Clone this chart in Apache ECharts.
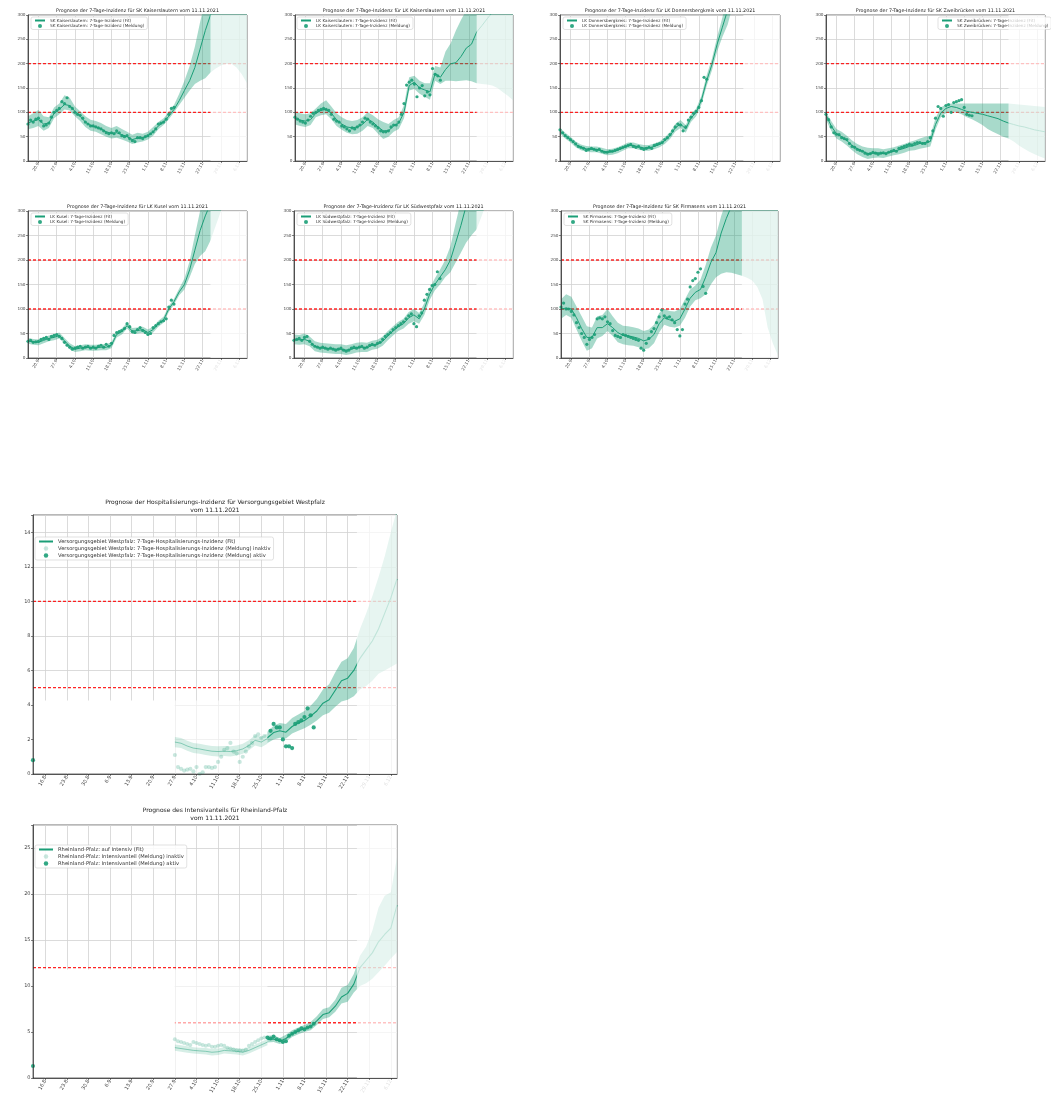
<!DOCTYPE html>
<html>
<head>
<meta charset="utf-8">
<script src="https://cdn.jsdelivr.net/npm/echarts@6/dist/echarts.min.js"></script>
<style>
  html, body { margin: 0; padding: 0; background: #fff; }
  #chart { width: 1051px; height: 1109px; }
</style>
</head>
<body>
<div id="chart"></div>
<script>
// ---------- tick labels ----------
const topTicks = ['20.9','27.9','4.10','11.10','18.10','25.10','1.11','8.11','15.11','22.11','29.11','6.12'];
const hospTicks = ['16.8','23.8','30.8','6.9','13.9','20.9','27.9','4.10','11.10','18.10','25.10','1.11','8.11','15.11','22.11','29.11','6.12'];
const fadedTicks = ['29.11','6.12'];

// ---------- threshold levels ----------
const incidenceLevels = [100, 200];
const hospLevels = [5, 10];
const icuLevels = [6, 12];

// ---------- 7-day incidence per district (fit + bands every 2nd day from 16.9, reports daily from 16.9) ----------
const skklFit = [78,82,85,76,78,98,106,116,114,102,92,80,73,70,66,60,57,58,54,50,44,47,48,52,60,72,80,92,106,124,145,165,192,230,268,300,330,360,390,420,450,480,510];
const skklLo  = [65,68,72,62,68,88,96,106,104,92,82,70,62,60,55,50,46,48,44,40,35,38,40,44,52,65,74,86,100,115,130,145,158,165,170,182,190,196,200,200,192,178,160];
const skklHi  = [92,98,105,92,90,110,118,135,130,112,102,92,85,82,78,72,68,72,66,60,54,58,56,60,70,80,88,100,115,138,165,195,235,285,330,370,400,420,440,460,480,500,520];
const skklPts = [76,84,80,86,88,82,72,74,78,90,100,104,108,122,118,130,112,108,100,96,94,88,80,76,72,72,70,68,66,62,58,56,58,56,62,58,52,50,52,46,42,40,48,48,46,50,52,56,60,66,76,78,80,86,96,108,110];

const lkklFit = [88,84,82,85,98,104,106,98,85,76,70,68,70,75,86,80,70,62,62,72,78,100,155,162,150,146,142,180,172,188,200,202,215,232,240,265,278,292,305,318,330,340,350];
const lkklLo  = [75,72,70,74,90,94,96,86,72,64,58,55,56,62,72,68,56,45,50,60,66,88,145,148,138,132,126,165,158,165,165,164,165,166,164,160,158,157,155,150,142,134,125];
const lkklHi  = [100,98,96,98,108,118,125,112,98,90,84,82,84,90,100,94,86,80,76,84,90,115,172,175,165,160,160,195,192,225,242,268,290,310,320,340,360,380,400,420,440,460,480];
const lkklPts = [90,86,82,80,78,84,92,98,100,104,106,108,106,104,96,86,82,80,72,70,66,62,68,66,70,74,80,88,86,80,76,72,68,62,60,60,62,70,74,74,80,96,118,156,162,166,158,132,150,155,134,142,136,190,178,175,166];

const donFit = [62,52,44,34,28,25,24,24,21,18,19,22,27,32,32,29,27,27,30,34,42,52,68,76,66,88,100,125,165,198,240,275,310,350,390,430,470,510,550,590,630,670,710];
const donLo  = [56,46,38,28,22,19,18,18,15,12,13,16,21,26,26,23,21,21,24,28,35,45,60,68,58,80,92,116,154,186,225,255,280,320,360,400,440,480,520,560,600,640,680];
const donHi  = [68,58,50,40,34,31,30,30,27,24,25,28,33,38,38,35,33,33,36,40,49,59,76,84,74,96,108,134,176,210,255,295,340,380,420,460,500,540,580,620,660,700,740];
const donPts = [64,58,52,48,44,40,35,30,28,26,22,24,26,24,22,24,20,18,18,20,20,22,24,26,28,30,32,34,30,28,30,26,24,26,28,26,32,34,36,38,44,48,54,62,70,76,74,62,70,84,90,98,102,110,124,172,168];

const zwFit = [95,72,56,50,42,32,25,20,15,16,17,15,17,20,23,26,30,32,36,38,40,75,98,108,112,110,106,102,100,98,96,93,90,87,82,78,75,72,70,67,64,62,60];
const zwLo  = [85,62,46,40,32,22,14,8,4,6,7,6,9,12,14,17,21,22,25,27,30,64,90,98,102,100,96,90,86,80,74,66,60,55,50,46,40,32,25,19,14,9,5];
const zwHi  = [100,82,66,60,52,42,35,30,27,26,26,24,26,28,32,35,39,42,46,50,52,88,110,116,118,118,118,118,118,118,118,118,118,118,118,118,117,116,115,114,113,112,111];
const zwPts = [96,85,70,58,55,54,48,46,44,36,30,28,24,22,20,16,14,15,18,16,14,16,17,15,18,20,22,20,26,28,30,32,34,33,36,38,38,36,36,40,48,62,88,112,108,92,114,116,100,120,122,124,126,110,96,94,93];

const kusFit = [35,33,32,36,40,42,46,35,24,18,20,22,21,21,22,22,26,48,54,66,55,56,58,52,58,70,78,100,115,135,150,180,220,260,290,315,340,365,390,415,440,465,490];
const kusLo  = [29,27,26,30,34,36,40,29,18,12,14,16,15,15,16,16,20,42,48,60,49,50,52,46,52,64,72,94,109,128,140,165,192,208,218,240,270,300,330,360,390,420,450];
const kusHi  = [41,39,38,42,46,48,52,41,30,24,26,28,27,27,28,28,32,54,60,72,61,62,64,58,64,76,84,106,121,142,162,198,250,300,340,380,420,460,500,540,580,620,660];
const kusPts = [34,36,32,33,34,38,40,42,38,44,46,48,44,40,32,26,22,18,20,22,24,20,22,24,20,22,20,24,26,22,28,24,30,46,52,54,56,60,70,64,54,52,58,62,56,52,48,50,62,66,70,74,76,80,104,118,110];

const swpFit = [38,37,38,34,24,21,20,19,18,18,16,18,21,22,21,26,28,34,45,55,64,70,82,88,80,100,130,150,165,180,200,235,270,310,350,390,430,470,510,550,590,630,670];
const swpLo  = [28,27,28,24,14,11,10,9,8,8,6,8,11,12,12,17,19,25,36,46,55,60,70,75,70,88,118,138,150,165,175,195,215,235,250,262,290,320,350,380,410,440,470];
const swpHi  = [48,47,50,44,34,31,30,29,28,28,26,28,31,32,31,35,37,44,55,65,74,80,94,100,92,112,142,162,180,200,228,275,320,360,400,440,480,520,560,600,640,680,720];
const swpPts = [36,38,40,36,42,44,34,28,24,22,20,22,20,18,20,18,16,18,20,16,14,16,20,22,20,22,24,20,22,26,28,26,30,32,38,44,48,52,58,62,66,70,74,80,86,90,70,64,86,92,118,130,140,148,150,176,162];

const pirFit = [100,102,100,82,60,42,42,62,62,70,62,52,46,45,43,40,35,38,48,70,82,78,75,80,100,122,134,140,165,195,215,255,285,310,340,370,400,430,460,490,520,550,580];
const pirLo  = [80,88,82,58,35,15,20,40,45,55,45,32,28,26,25,22,18,20,30,52,68,64,62,66,82,105,118,122,130,150,165,172,175,174,171,168,164,158,145,120,62,30,5];
const pirHi  = [120,130,125,105,85,65,62,85,88,100,85,72,66,65,63,60,55,58,68,92,100,96,95,100,120,140,148,160,190,225,250,290,320,350,380,410,440,470,500,530,560,590,620];
const pirPts = [104,112,100,100,95,88,72,62,50,42,28,38,42,48,80,82,80,84,74,70,56,46,44,42,48,46,44,42,40,38,36,20,16,30,40,54,60,72,84,98,86,82,84,78,72,58,45,58,110,120,145,158,162,175,182,146,132];

// ---------- hospitalisation incidence, Westpfalz ----------
// inactive part: every 2nd day from 27.9 (fit/band), daily reports from 27.9
const hospInFit = [1.85,1.78,1.62,1.5,1.45,1.38,1.32,1.3,1.32,1.3,1.35,1.45,1.65,1.95,1.85,2.05];
const hospInLo  = [1.55,1.5,1.35,1.22,1.17,1.1,1.04,1.02,1.04,1.02,1.07,1.17,1.37,1.65,1.55,1.75];
const hospInHi  = [2.15,2.08,1.92,1.8,1.75,1.68,1.62,1.6,1.62,1.6,1.65,1.75,1.95,2.25,2.15,2.35];
const hospInPts = [1.1,0.4,0.3,0.2,0.25,0.3,0.15,0.4,0.0,0.1,0.4,0.4,0.35,0.4,0.7,1.0,1.4,1.5,1.8,1.3,1.2,0.7,1.0,1.3,1.6,1.8,2.2,2.3,2.1,2.2];
// active part: every 2nd day from 27.10, daily reports from 28.10
const hospFit = [2.1,2.4,2.5,2.42,2.75,2.95,3.1,3.35,3.65,4.1,4.3,4.85,5.4,5.55,6.0,6.7,7.2,7.7,8.4,9.3,10.2,11.3];
const hospLo  = [1.8,2.0,2.1,2.05,2.35,2.5,2.65,2.85,3.1,3.4,3.55,3.9,4.2,4.3,4.5,4.9,5.1,5.4,5.8,6.0,6.2,6.4];
const hospHi  = [2.45,2.8,2.95,2.9,3.25,3.45,3.65,3.95,4.35,4.9,5.2,5.9,6.5,6.7,7.3,8.4,9.3,10.3,11.4,12.6,14.0,15.3];
const hospPts = [2.5,2.9,2.7,2.7,2.0,1.6,1.6,1.5,2.9,3.0,3.1,3.3,3.8,3.4,2.7];
const hospFirstPt = 0.8;

// ---------- ICU share, Rheinland-Pfalz ----------
const icuInFit = [3.3,3.2,3.1,3.0,2.95,2.9,2.8,2.85,3.0,2.95,2.9,2.8,3.0,3.3,3.6,3.9];
const icuInLo  = [2.95,2.85,2.75,2.65,2.6,2.55,2.45,2.5,2.65,2.6,2.55,2.45,2.65,2.95,3.25,3.55];
const icuInHi  = [3.65,3.55,3.45,3.35,3.3,3.25,3.15,3.2,3.35,3.3,3.25,3.15,3.35,3.65,3.95,4.25];
const icuInPts = [4.2,4.0,3.9,3.8,3.7,3.6,3.9,3.8,3.7,3.6,3.5,3.6,3.4,3.4,3.5,3.6,3.5,3.3,3.2,3.1,3.0,3.0,3.0,3.1,3.5,3.7,3.9,4.1,4.3,4.4];
const icuFit = [4.2,4.25,4.0,4.3,4.8,5.1,5.35,5.6,6.2,6.9,7.1,7.8,8.8,9.2,10.2,12.0,12.8,13.6,14.8,15.6,16.3,18.8];
const icuLo  = [3.85,3.9,3.7,3.95,4.45,4.75,5.0,5.2,5.75,6.4,6.6,7.2,8.1,8.3,9.3,10.0,10.3,10.8,11.5,12.2,13.0,13.7];
const icuHi  = [4.6,4.65,4.35,4.7,5.2,5.5,5.75,6.1,6.7,7.5,7.7,8.5,9.8,10.1,11.3,13.3,14.3,16.0,18.5,19.8,20.2,24.0];
const icuPts = [4.4,4.3,4.5,4.2,4.1,3.9,4.0,4.6,4.8,5.0,5.2,5.4,5.3,5.5,5.6,5.9];
const icuFirstPt = 1.3;

// ---------- styling ----------
const FONT = 'DejaVu Sans';
const TEAL = '#1b9e77';
const BAND = 'rgba(27,158,119,0.38)';
const GRID_COLOR = '#d2d2d2';

function dayRange(y, m, d, n) {
  const out = [];
  for (let k = 0; k < n; k++) {
    const t = new Date(Date.UTC(y, m, d + k));
    out.push(t.getUTCDate() + '.' + (t.getUTCMonth() + 1));
  }
  return out;
}
const topDays = dayRange(2021, 8, 16, 85);   // 16.9 – 9.12
const hospDays = dayRange(2021, 7, 12, 119); // 12.8 – 8.12

function pairs(days, start, step, vals) { return vals.map((v, k) => [days[start + k * step], v]); }
function diff(hi, lo) { return hi.map((v, k) => +(v - lo[k]).toFixed(3)); }

const grids = [], xAxes = [], yAxes = [], series = [], legends = [], titles = [];

function addGrid(box) {
  grids.push({ left: box[0], top: box[1], width: box[2], height: box[3], show: true,
    borderColor: '#333', borderWidth: 0.7, backgroundColor: 'transparent' });
  return grids.length - 1;
}

function addAxes(gi, days, ticks, yMin, yMax, yInt, tickFont) {
  const isTick = (i, v) => ticks.indexOf(v) >= 0;
  const xb = { type: 'category', data: days, boundaryGap: false, gridIndex: gi, position: 'bottom', silent: true };
  xAxes.push(Object.assign({}, xb, { z: 0, axisLine: { show: false }, axisTick: { show: false }, axisLabel: { show: false },
    splitLine: { show: true, interval: isTick, lineStyle: { color: GRID_COLOR, width: 0.8 } } }));
  xAxes.push(Object.assign({}, xb, { z: 6,
    axisLine: { show: true, onZero: false, lineStyle: { color: '#333', width: 0.8 } },
    axisTick: { show: true, interval: isTick, length: 2, lineStyle: { color: '#333', width: 0.6 } },
    axisLabel: { show: true, interval: isTick, rotate: 60, margin: 2, fontSize: tickFont, fontFamily: FONT,
      color: v => (fadedTicks.indexOf(v) >= 0 ? '#e2e2e2' : '#444') },
    splitLine: { show: false } }));
  const yb = { type: 'value', min: yMin, max: yMax, interval: yInt, gridIndex: gi, position: 'left', silent: true };
  yAxes.push(Object.assign({}, yb, { z: 0, axisLine: { show: false }, axisTick: { show: false }, axisLabel: { show: false },
    splitLine: { show: true, lineStyle: { color: GRID_COLOR, width: 0.8 } } }));
  yAxes.push(Object.assign({}, yb, { z: 6,
    axisLine: { show: true, onZero: false, lineStyle: { color: '#333', width: 0.8 } },
    axisTick: { show: true, length: 2, lineStyle: { color: '#333', width: 0.6 } },
    axisLabel: { show: true, margin: 2.5, fontSize: tickFont, fontFamily: FONT, color: '#444',
      formatter: v => (Math.abs(v % yInt) < 1e-9 ? String(v) : '') },
    splitLine: { show: false } }));
  return { xAxisIndex: 2 * gi, yAxisIndex: 2 * gi };
}

function addBand(ax, days, start, lo, hi, color, z, key) {
  series.push(Object.assign({ type: 'line', stack: key, data: pairs(days, start, 2, lo), symbol: 'none',
    lineStyle: { opacity: 0 }, silent: true, z: z }, ax));
  series.push(Object.assign({ type: 'line', stack: key, data: pairs(days, start, 2, diff(hi, lo)), symbol: 'none',
    lineStyle: { opacity: 0 }, areaStyle: { color: color, opacity: 1 }, silent: true, z: z }, ax));
}

function addOverlay(ax, areas, color, z) {
  series.push(Object.assign({ type: 'line', data: [], silent: true,
    markArea: { silent: true, z: z, itemStyle: { color: color, borderWidth: 0 }, data: areas } }, ax));
}

// red dashed threshold lines spanning the whole time range
function addThresholds(ax, days, levels) {
  levels.forEach(v => {
    series.push(Object.assign({ type: 'line', data: [[days[0], v], [days[days.length - 1], v]], symbol: 'none', silent: true, z: 1,
      lineStyle: { color: 'rgba(255,0,0,0.85)', type: [3, 2], width: 1.4 } }, ax));
  });
}

function addLegend(pos, names, font, iw, ih, gap, pad) {
  // the fit entry is drawn as a plain line (its marker hidden)
  const data = names.map((n, k) => (k === 0 ? { name: n, itemStyle: { opacity: 0 } } : n));
  legends.push({ left: pos[0], top: pos[1], orient: 'vertical', z: 7, selectedMode: false,
    itemWidth: iw, itemHeight: ih, itemGap: gap, padding: pad,
    backgroundColor: 'rgba(255,255,255,0.85)', borderColor: '#cfcfcf', borderWidth: 0.6, borderRadius: 2,
    textStyle: { fontSize: font, color: '#333', fontFamily: FONT }, data: data });
}

function addTitle(text, cx, top, font, lh) {
  titles.push({ text: text, left: cx, top: top, textAlign: 'center', padding: 0,
    textStyle: { fontSize: font, fontWeight: 'normal', color: '#222', fontFamily: FONT, lineHeight: lh } });
}

// ---------- district panels ----------
const topPanels = [
  { region: 'SK Kaiserslautern', fit: skklFit, lo: skklLo, hi: skklHi, pts: skklPts },
  { region: 'LK Kaiserslautern', fit: lkklFit, lo: lkklLo, hi: lkklHi, pts: lkklPts },
  { region: 'LK Donnersbergkreis', fit: donFit, lo: donLo, hi: donHi, pts: donPts },
  { region: 'SK Zweibrücken', fit: zwFit, lo: zwLo, hi: zwHi, pts: zwPts },
  { region: 'LK Kusel', fit: kusFit, lo: kusLo, hi: kusHi, pts: kusPts },
  { region: 'LK Südwestpfalz', fit: swpFit, lo: swpLo, hi: swpHi, pts: swpPts },
  { region: 'SK Pirmasens', fit: pirFit, lo: pirLo, hi: pirHi, pts: pirPts }
];
const topBoxes = [[28,15,219,146],[295,15,218,146],[560,15,220,146],[826,15,219,146],[28,211,219,147],[294,211,219,147],[561,211,217,147]];
const topLegendPos = [[31,17],[297,17],[563,17],[938,17],[31,213],[297,213],[564,213]];

topPanels.forEach((p, k) => {
  const box = topBoxes[k];
  const gi = addGrid(box);
  const ax = addAxes(gi, topDays, topTicks, 0, 300, 50, 4.2);
  const fitName = p.region + ': 7-Tage-Inzidenz (Fit)';
  const ptsName = p.region + ': 7-Tage-Inzidenz (Meldung)';
  addThresholds(ax, topDays, incidenceLevels);
  addBand(ax, topDays, 0, p.lo, p.hi, BAND, 3, 'band' + k);
  series.push(Object.assign({ type: 'line', name: fitName, data: pairs(topDays, 0, 2, p.fit), symbol: 'none',
    lineStyle: { color: TEAL, width: 1 }, itemStyle: { color: TEAL }, z: 4 }, ax));
  series.push(Object.assign({ type: 'scatter', name: ptsName, data: pairs(topDays, 0, 1, p.pts), symbolSize: 3.2,
    itemStyle: { color: TEAL, opacity: 0.9 }, z: 5 }, ax));
  addOverlay(ax, [[{ xAxis: '25.11' }, { xAxis: '9.12' }]], 'rgba(255,255,255,0.72)', 8);
  addLegend(topLegendPos[k], [fitName, ptsName], 4.2, 10, 4, 1.5, [1.5, 3]);
  addTitle('Prognose der 7-Tage-Inzidenz für ' + p.region + ' vom 11.11.2021', box[0] + box[2] / 2, box[1] - 7, 4.8, 6);
});

// ---------- hospitalisation / ICU panels ----------
function addLongPanel(cfg) {
  const gi = addGrid(cfg.box);
  const ax = addAxes(gi, hospDays, hospTicks, 0, cfg.yMax, cfg.yInt, 5);
  const inactiveFit = 'rgba(27,158,119,0.45)';
  addThresholds(ax, hospDays, cfg.levels);
  // masked history before 27.9 and the dimmed inactive stretch
  addOverlay(ax, [[{ xAxis: '12.8', yAxis: cfg.maskLow }, { xAxis: '27.9', yAxis: cfg.maskTop }]], '#ffffff', 2);
  addOverlay(ax, [[{ xAxis: '27.9', yAxis: cfg.maskLow }, { xAxis: '27.10', yAxis: cfg.maskTop }]], 'rgba(255,255,255,0.6)', 2);
  // inactive stretch
  addBand(ax, hospDays, 46, cfg.inLo, cfg.inHi, 'rgba(27,158,119,0.18)', 3, cfg.key + 'in');
  series.push(Object.assign({ type: 'line', name: cfg.key + '-inaktiv-fit', data: pairs(hospDays, 46, 2, cfg.inFit), symbol: 'none',
    lineStyle: { color: inactiveFit, width: 1 }, silent: true, z: 4 }, ax));
  series.push(Object.assign({ type: 'scatter', name: cfg.inName, data: pairs(hospDays, 46, 1, cfg.inPts), symbolSize: cfg.sym,
    itemStyle: { color: 'rgba(27,158,119,0.3)' }, z: 5 }, ax));
  // active stretch and forecast
  addBand(ax, hospDays, 76, cfg.lo, cfg.hi, 'rgba(27,158,119,0.38)', 3, cfg.key + 'act');
  series.push(Object.assign({ type: 'line', name: cfg.fitName, data: pairs(hospDays, 76, 2, cfg.fit), symbol: 'none',
    lineStyle: { color: TEAL, width: 1.1 }, itemStyle: { color: TEAL }, z: 4 }, ax));
  const act = [[hospDays[0], cfg.first]].concat(pairs(hospDays, cfg.ptsStart, 1, cfg.pts));
  series.push(Object.assign({ type: 'scatter', name: cfg.actName, data: act, symbolSize: cfg.sym,
    itemStyle: { color: TEAL, opacity: 0.9 }, z: 5 }, ax));
  addOverlay(ax, [[{ xAxis: '25.11' }, { xAxis: '8.12' }]], 'rgba(255,255,255,0.72)', 8);
  addLegend(cfg.legendPos, [cfg.fitName, cfg.inName, cfg.actName], 5.2, 14, 4.5, 2, [2, 3]);
  addTitle(cfg.title, cfg.box[0] + cfg.box[2] / 2, cfg.titleTop, 6, 8.5);
}

addLongPanel({
  key: 'hosp', box: [33, 515, 364, 259], yMax: 15, yInt: 2, maskLow: 0.06, maskTop: 4.25, levels: hospLevels,
  inFit: hospInFit, inLo: hospInLo, inHi: hospInHi, inPts: hospInPts,
  fit: hospFit, lo: hospLo, hi: hospHi, pts: hospPts, ptsStart: 77, first: hospFirstPt, sym: 4.2,
  fitName: 'Versorgungsgebiet Westpfalz: 7-Tage-Hospitalisierungs-Inzidenz (Fit)',
  inName: 'Versorgungsgebiet Westpfalz: 7-Tage-Hospitalisierungs-Inzidenz (Meldung) inaktiv',
  actName: 'Versorgungsgebiet Westpfalz: 7-Tage-Hospitalisierungs-Inzidenz (Meldung) aktiv',
  legendPos: [35, 537], titleTop: 498,
  title: 'Prognose der Hospitalisierungs-Inzidenz für Versorgungsgebiet Westpfalz\nvom 11.11.2021'
});

addLongPanel({
  key: 'icu', box: [33, 825, 364, 253], yMax: 27.5, yInt: 5, maskLow: 0.12, maskTop: 11.8, levels: icuLevels,
  inFit: icuInFit, inLo: icuInLo, inHi: icuInHi, inPts: icuInPts,
  fit: icuFit, lo: icuLo, hi: icuHi, pts: icuPts, ptsStart: 76, first: icuFirstPt, sym: 4,
  fitName: 'Rheinland-Pfalz: auf Intensiv (Fit)',
  inName: 'Rheinland-Pfalz: Intensivanteil (Meldung) inaktiv',
  actName: 'Rheinland-Pfalz: Intensivanteil (Meldung) aktiv',
  legendPos: [35, 845], titleTop: 806,
  title: 'Prognose des Intensivanteils für Rheinland-Pfalz\nvom 11.11.2021'
});

const chart = echarts.init(document.getElementById('chart'), null, { renderer: 'canvas' });
chart.setOption({
  animation: false,
  backgroundColor: '#ffffff',
  title: titles,
  legend: legends,
  grid: grids,
  xAxis: xAxes,
  yAxis: yAxes,
  series: series
});
</script>
</body>
</html>
